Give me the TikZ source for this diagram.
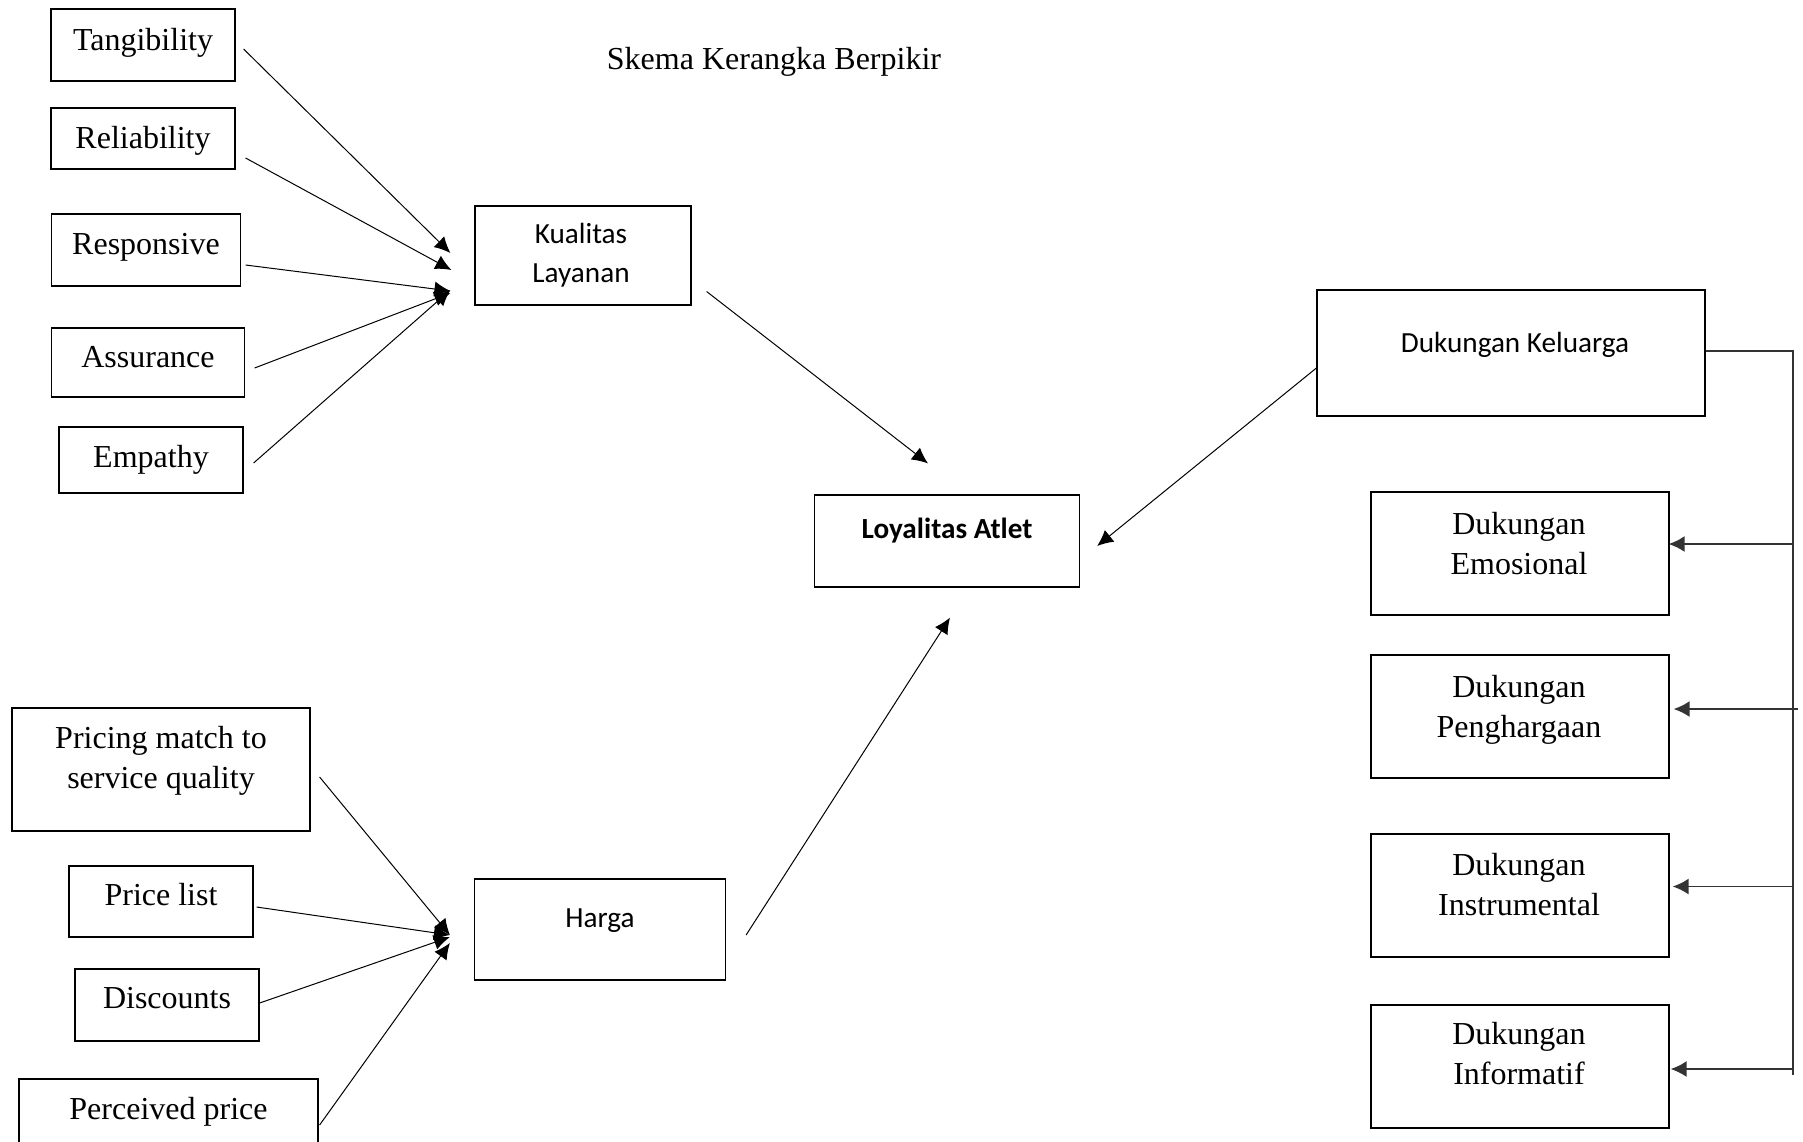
\documentclass[tikz,border=0pt]{standalone}
\usepackage{fontspec}
\setmainfont{Liberation Serif}
\newfontfamily\calibri{Carlito}
\usetikzlibrary{arrows.meta,calc}

\begin{document}
\begin{tikzpicture}[x=0.5pt,y=-0.5pt,>={Latex[length=8pt,width=7.5pt]},
  kotak/.style={draw,line width=0.6pt,inner sep=0pt},
  tnr/.style={font=\fontsize{16}{20}\selectfont,align=center,anchor=base,inner sep=0pt},
  cal/.style={font=\calibri\fontsize{14.6}{19.5}\selectfont,align=center,anchor=base,inner sep=0pt},
  panah/.style={->,line width=0.5pt},
  garis/.style={line width=0.9pt,black!80,>={Latex[length=8pt,width=8pt]}}]
  \useasboundingbox (0,0) rectangle (1803,1141);
  \clip (0,0) rectangle (1803,1141);

  % Judul
  \node[tnr] (judul) at (774,69) {Skema Kerangka Berpikir};

  % Dimensi kualitas layanan
  \node[kotak,minimum width=92pt,minimum height=36pt] (tang) at (143,45) {};
  \node[kotak,minimum width=92pt,minimum height=30.5pt] (rel) at (143,138.5) {};
  \node[kotak,minimum width=94.5pt,minimum height=36pt] (resp) at (146,250) {};
  \node[kotak,minimum width=96.5pt,minimum height=34.5pt] (assu) at (148,362.5) {};
  \node[kotak,minimum width=92pt,minimum height=33pt] (emp) at (151,460) {};
  \node[tnr] (tang-t) at ($(tang)+(0,5)$) {Tangibility};
  \node[tnr] (rel-t) at ($(rel)+(0,9.5)$) {Reliability};
  \node[tnr] (resp-t) at ($(resp)+(0,4)$) {Responsive};
  \node[tnr] (assu-t) at ($(assu)+(0,4.5)$) {Assurance};
  \node[tnr] (emp-t) at ($(emp)+(0,7)$) {Empathy};

  % Dimensi harga
  \node[kotak,minimum width=149pt,minimum height=61.5pt] (pm) at (161,769.5) {};
  \node[kotak,minimum width=92pt,minimum height=35.5pt] (pl) at (161,901.5) {};
  \node[kotak,minimum width=92pt,minimum height=36pt] (disc) at (167,1005) {};
  \node[kotak,minimum width=149.5pt,minimum height=61.5pt] (pp) at (168.5,1140.5) {};
  \node[tnr] (pm-t) at ($(pm)+(0,18.5)$) {Pricing match to\\service quality};
  \node[tnr] (pl-t) at ($(pl)+(0,3.5)$) {Price list};
  \node[tnr] (disc-t) at ($(disc)+(0,3)$) {Discounts};
  \node[tnr] (pp-t) at ($(pp)+(0,-21.5)$) {Perceived price};

  % Variabel utama
  \node[kotak,minimum width=108pt,minimum height=49.5pt] (kl) at (583,255.5) {};
  \node[kotak,minimum width=125.5pt,minimum height=50.5pt] (harga) at (600,929.5) {};
  \node[kotak,minimum width=132.5pt,minimum height=46pt] (la) at (947,541) {};
  \node[kotak,minimum width=194pt,minimum height=63pt] (dk) at (1511,353) {};
  \node[cal] (kl-t) at ($(kl)+(-2,26.5)$) {Kualitas\\Layanan};
  \node[cal] (harga-t) at ($(harga)+(0,-2.5)$) {Harga};
  \node[cal,font=\calibri\bfseries\fontsize{14.6}{19.5}\selectfont] (la-t) at ($(la)+(0,-3)$) {Loyalitas Atlet};
  \node[cal] (dk-t) at ($(dk)+(4,-1)$) {Dukungan Keluarga};

  % Dimensi dukungan keluarga
  \foreach \k/\y in {emo/553.5,peng/716.5,inst/895.5,info/1066.5}
    \node[kotak,minimum width=149pt,minimum height=61.5pt] (\k) at (1520,\y) {};
  \node[tnr] (emo-t) at ($(emo)+(-1,20.5)$) {Dukungan\\Emosional};
  \node[tnr] (peng-t) at ($(peng)+(-1,20.5)$) {Dukungan\\Penghargaan};
  \node[tnr] (inst-t) at ($(inst)+(-1,19.5)$) {Dukungan\\Instrumental};
  \node[tnr] (info-t) at ($(info)+(-1,17.5)$) {Dukungan\\Informatif};

  % Panah ke Kualitas Layanan
  \draw[panah] ($(tang.east)+(8,4)$) -- ($(kl.west)+(-24,-2.5)$);
  \draw[panah] ($(rel.east)+(10,19.5)$) -- ($(kl.west)+(-23,14.5)$);
  \draw[panah] ($(resp.east)+(4.5,15)$) -- ($(kl.west)+(-24,35.5)$);
  \draw[panah] ($(assu.east)+(9.5,5.5)$) -- ($(kl.west)+(-24,37.5)$);
  \draw[panah] ($(emp.east)+(10,3)$) -- ($(kl.west)+(-24,34.5)$);

  % Panah ke Harga
  \draw[panah] ($(pm.east)+(9,7.5)$) -- ($(harga.west)+(-24,5.5)$);
  \draw[panah] ($(pl.east)+(3,5.5)$) -- ($(harga.west)+(-24,5.5)$);
  \draw[panah] ($(disc.east)+(0,-2)$) -- ($(harga.west)+(-24,7.5)$);
  \draw[panah] ($(pp.east)+(1,-15.5)$) -- ($(harga.west)+(-24,13.5)$);

  % Panah ke Loyalitas Atlet
  \draw[panah] ($(kl.east)+(15,36)$) -- ($(la.north)+(-19,-31)$);
  \draw[panah] ($(dk.west)+(0,15)$) -- ($(la.east)+(17,5)$);
  \draw[panah] ($(harga.east)+(20,5.5)$) -- ($(la.south)+(3,30)$);

  % Garis dukungan keluarga
  \coordinate (spine) at ($(dk.east)+(87,-2)$);
  \draw[garis] ($(dk.east)+(0,-2)$) -- (spine) -- ($(spine)+(0,724)$);
  \foreach \k/\dx/\dy/\ex in {emo/-1/-9.5/0,peng/4/-7.5/5,inst/3/-9/0,info/1/2.5/0} {
    \coordinate (\k-in) at ($(\k.east)+(\dx,\dy)$);
    \draw[garis,->] ($(spine |- \k-in)+(\ex,0)$) -- (\k-in);
  }
\end{tikzpicture}
\end{document}
